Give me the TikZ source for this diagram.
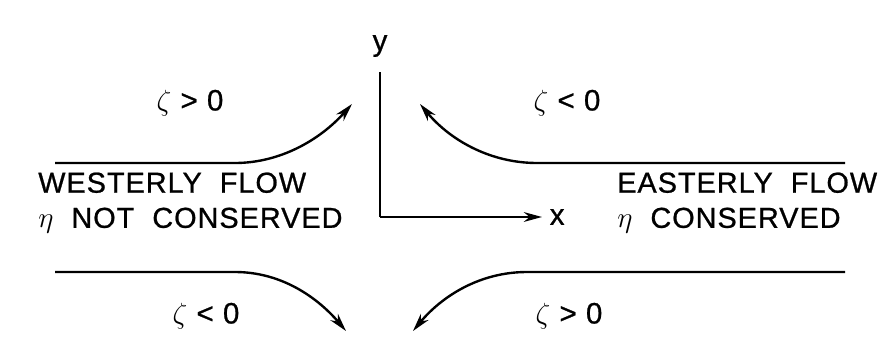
\documentclass[tikz,border=0pt]{standalone}
\usepackage{fontspec}
\setmainfont{Liberation Sans}
\newfontfamily\letterfont[LetterSpace=3.5, FakeBold=0.8]{Liberation Sans}
\usepackage{tikz}
\usetikzlibrary{positioning, arrows.meta}

\begin{document}
\begin{tikzpicture}[
  x=0.025cm, y=-0.025cm,
  >={Stealth[length=13pt, width=7pt]},
  flow/.style={->, line width=1.7pt},
  axis/.style={->, line width=1.4pt},
  zlabel/.style={font=\letterfont\fontsize{21}{25}\selectfont},
  regionlabel/.style={font=\letterfont\fontsize{20.5}{25}\selectfont,
    align=left, anchor=west, inner sep=0pt},
]
\useasboundingbox (0,0) rectangle (880,355);

% ===== Axes =====
\coordinate (origin) at (380,217);
\coordinate (ytop) at (380,72);
\coordinate (xend) at (542,217);
\draw[line width=1.4pt] (origin) -- (ytop);
\draw[axis] (origin) -- (xend);
\node[zlabel] (ylab) at (380,46) {y};
\node[zlabel, right=2pt of xend] (xlab) {x};

% ===== Streamlines =====
\coordinate (ulstart) at (55,163);
\coordinate (ulbend) at (235,163);
\coordinate (ultip) at (352,104);
\draw[flow] (ulstart) -- (ulbend) .. controls (280,163) and (320,140) .. (ultip);

\coordinate (urstart) at (845,163);
\coordinate (urbend) at (537,163);
\coordinate (urtip) at (420,104);
\draw[flow] (urstart) -- (urbend) .. controls (490,163) and (450,140) .. (urtip);

\coordinate (llstart) at (55,272);
\coordinate (llbend) at (235,272);
\coordinate (lltip) at (346,331);
\draw[flow] (llstart) -- (llbend) .. controls (282,272) and (318,298) .. (lltip);

\coordinate (lrstart) at (845,272);
\coordinate (lrbend) at (527,272);
\coordinate (lrtip) at (413,331);
\draw[flow] (lrstart) -- (lrbend) .. controls (480,272) and (442,296) .. (lrtip);

% ===== Vorticity labels =====
\node[zlabel] (zul) at (190,103) {$\zeta$ > 0};
\node[zlabel] (zur) at (567,103) {$\zeta$ < 0};
\node[zlabel] (zll) at (206,316) {$\zeta$ < 0};
\node[zlabel] (zlr) at (569,316) {$\zeta$ > 0};

% ===== Flow regions =====
\node[regionlabel] (west) at (38,203)
  {WESTERLY\ \ FLOW\\$\eta$\ \ NOT\ \ CONSERVED};
\node[regionlabel] (east) at (617,203)
  {EASTERLY\ \ FLOW\\$\eta$\ \ CONSERVED};

\end{tikzpicture}
\end{document}
